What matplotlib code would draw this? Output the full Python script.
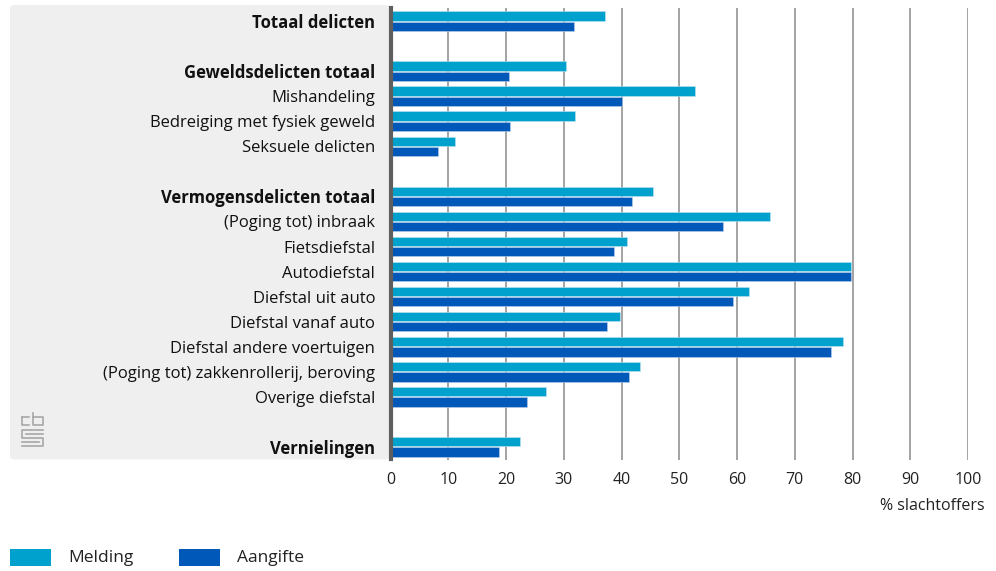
import matplotlib
matplotlib.use('Agg')
import matplotlib.pyplot as plt
from matplotlib.patches import FancyBboxPatch, Rectangle
from matplotlib.lines import Line2D
import numpy as np

plt.rcParams['font.family'] = ['Open Sans', 'DejaVu Sans']

# '' marks an empty spacer row between the groups
categories = ['Totaal delicten', '',
              'Geweldsdelicten totaal', 'Mishandeling', 'Bedreiging met fysiek geweld',
              'Seksuele delicten', '',
              'Vermogensdelicten totaal', '(Poging tot) inbraak', 'Fietsdiefstal',
              'Autodiefstal', 'Diefstal uit auto', 'Diefstal vanaf auto',
              'Diefstal andere voertuigen', '(Poging tot) zakkenrollerij, beroving',
              'Overige diefstal', '',
              'Vernielingen']
bold = {'Totaal delicten', 'Geweldsdelicten totaal', 'Vermogensdelicten totaal', 'Vernielingen'}

melding = [37.2, None, 30.4, 52.7, 31.9, 11.1, None,
           45.4, 65.8, 40.9, 79.8, 62.0, 39.8, 78.3, 43.2, 26.9, None, 22.4]
aangifte = [31.8, None, 20.6, 40.1, 20.7, 8.2, None,
            41.8, 57.5, 38.7, 79.8, 59.3, 37.5, 76.2, 41.3, 23.6, None, 18.8]

c_melding = '#00A1CD'
c_aangifte = '#0058B8'

fig = plt.figure(figsize=(9.96, 5.71), dpi=100)
W, H = 996, 571

# grey label panel behind the category names
panel = FancyBboxPatch((10 / W, (H - 459.5) / H), (390 - 10) / W, (459.5 - 5) / H,
                       boxstyle='round,pad=0,rounding_size=0.006',
                       transform=fig.transFigure, facecolor='#EFEFEF',
                       edgecolor='none', zorder=-5)
fig.patches.append(panel)

ax = fig.add_axes([390.5 / W, (H - 459.5) / H, 577.5 / W, (459.5 - 8.5) / H])
ax.set_facecolor('none')
ax.set_zorder(2)

n = len(categories)
y = np.arange(n)
bh = 0.37
for i, (m, a) in enumerate(zip(melding, aangifte)):
    if m is None:
        continue
    ax.barh(i - bh / 2 - 0.02, m, height=bh, color=c_melding,
            edgecolor='#BFE4F2', linewidth=0.4, zorder=3)
    ax.barh(i + bh / 2 + 0.02, a, height=bh, color=c_aangifte,
            edgecolor='#BCD0EC', linewidth=0.4, zorder=3)

ax.set_ylim(n - 0.5, -0.5)
ax.set_xlim(0, 100)
ax.set_yticks(y)
ax.set_yticklabels(categories, fontsize=12, color='#111111')
for lbl in ax.get_yticklabels():
    if lbl.get_text() in bold:
        lbl.set_fontweight('bold')
ax.tick_params(axis='y', length=0, pad=11)

ax.set_xticks(np.arange(0, 101, 10))
ax.tick_params(axis='x', length=0, pad=9, labelsize=11.5, labelcolor='#222222')
ax.grid(axis='x', color='#8A8A8A', linewidth=1.1, zorder=1)
ax.set_axisbelow(True)

for s in ['top', 'right', 'bottom']:
    ax.spines[s].set_visible(False)
ax.spines['left'].set_color('#5F5F5F')
ax.spines['left'].set_linewidth(3)
ax.spines['left'].set_zorder(4)

fig.text(985 / W, 1 - 506 / H, '% slachtoffers', ha='right', va='center',
         fontsize=11.5, color='#222222')

# legend
for x0, col, name in [(10, c_melding, 'Melding'), (179, c_aangifte, 'Aangifte')]:
    fig.patches.append(Rectangle((x0 / W, 1 - 566 / H), 41 / W, 17 / H,
                                 transform=fig.transFigure, facecolor=col,
                                 edgecolor='none'))
    fig.text((x0 + 58) / W, 1 - 558 / H, name, ha='left', va='center',
             fontsize=12.5, color='#222222')

# small cbs mark in the panel
logo = [
    [(22, 417), (22, 425), (29, 425)], [(22, 417), (29, 417)],
    [(33, 413), (33, 425), (43, 425), (43, 417), (33, 417)],
    [(43, 430), (22, 430), (22, 438), (43, 438), (43, 446), (22, 446)],
    [(26, 434), (43, 434)], [(22, 442), (39, 442)],
]
for pts in logo:
    xs = [p[0] / W for p in pts]
    ys = [1 - p[1] / H for p in pts]
    fig.lines.append(Line2D(xs, ys, transform=fig.transFigure,
                            color='#A8A8A8', linewidth=1.2))

fig.savefig('out.png', dpi=100)
